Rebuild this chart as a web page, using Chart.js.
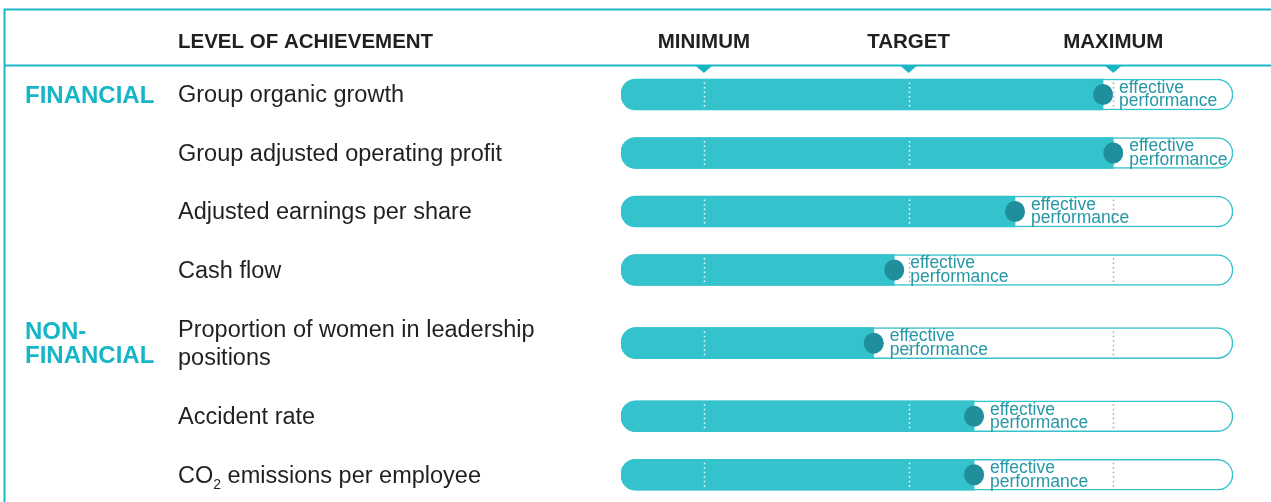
<!DOCTYPE html>
<html><head><meta charset="utf-8">
<script src="https://cdn.jsdelivr.net/npm/chart.js@4.4.1/dist/chart.umd.min.js"></script>
<style>html,body{margin:0;padding:0;background:#fff;overflow:hidden}canvas{display:block}</style>
</head><body>
<canvas id="c" width="1271" height="502"></canvas>
<script>
// ---- data ----
const categories = [
  'Group organic growth',
  'Group adjusted operating profit',
  'Adjusted earnings per share',
  'Cash flow',
  ['Proportion of women in leadership', 'positions'],
  'Accident rate',
  'CO\u2082 emissions per employee'
];
const effective = [195, 200, 152, 93, 83, 132, 132];
const levelValues = [0, 100, 200];
const levelLabels = ['MINIMUM', 'TARGET', 'MAXIMUM'];
const scaleRange = [-40.5, 258.5];
const groupLabels = [['FINANCIAL'], ['NON-', 'FINANCIAL']];
const groupStartRow = [0, 4];
const headerTitle = 'LEVEL OF ACHIEVEMENT';
const markerText = ['effective', 'performance'];

// ---- style ----
const TEAL = '#34c2cd';
const LINE = '#1db8c8';
const DOT = '#1f8f9c';
const MARK_TEXT = '#2697a5';
const INK = '#231f20';
const FONT = '"Liberation Sans", Arial, Helvetica, sans-serif';

// row index positions (extra room around multi-line rows)
const rowPos = [];
categories.forEach((c, i) => {
  if (i === 0) { rowPos.push(0); return; }
  const extra = (Array.isArray(c) || Array.isArray(categories[i - 1])) ? 0.25 : 0;
  rowPos.push(rowPos[i - 1] + 1 + extra);
});

const decor = {
  id: 'decor',
  beforeDatasetsDraw(chart) {
    const ctx = chart.ctx, xs = chart.scales.x, ys = chart.scales.y;
    const W = chart.width, H = chart.height;
    ctx.save();
    // frame
    ctx.strokeStyle = LINE; ctx.lineWidth = 2;
    ctx.beginPath();
    ctx.moveTo(4.5, H); ctx.lineTo(4.5, 9.5); ctx.lineTo(W, 9.5);
    ctx.moveTo(4.5, 65.5); ctx.lineTo(W, 65.5);
    ctx.stroke();
    // triangles
    ctx.fillStyle = '#19b5c5';
    levelValues.forEach(v => {
      const x = xs.getPixelForValue(v);
      ctx.beginPath();
      ctx.moveTo(x - 8, 66); ctx.lineTo(x + 8, 66); ctx.lineTo(x, 73); ctx.closePath();
      ctx.fill();
    });
    // header
    ctx.fillStyle = INK;
    ctx.font = 'bold 20.5px ' + FONT;
    ctx.textBaseline = 'middle';
    ctx.textAlign = 'left';
    ctx.fillText(headerTitle, 178, 42);
    ctx.textAlign = 'center';
    levelLabels.forEach((t, i) => ctx.fillText(t, xs.getPixelForValue(levelValues[i]), 42));
    // group labels
    ctx.textAlign = 'left';
    ctx.fillStyle = '#17b6c6';
    ctx.font = 'bold 24px ' + FONT;
    groupLabels.forEach((lines, g) => {
      const cy = ys.getPixelForValue(rowPos[groupStartRow[g]]);
      lines.forEach((t, k) => ctx.fillText(t, 25, cy + 1.5 + (k - (lines.length - 1) / 2) * 24));
    });
    // row labels
    ctx.fillStyle = INK;
    categories.forEach((c, i) => {
      const cy = ys.getPixelForValue(rowPos[i]);
      const lines = Array.isArray(c) ? c : [c];
      lines.forEach((t, k) => {
        const y = cy + 1.5 + (k - (lines.length - 1) / 2) * 28;
        const parts = t.split('\u2082');
        let x = 178;
        parts.forEach((p, j) => {
          ctx.font = '23.5px ' + FONT;
          ctx.fillText(p, x, y);
          x += ctx.measureText(p).width;
          if (j < parts.length - 1) {
            ctx.font = '14px ' + FONT;
            ctx.fillText('2', x, y + 9);
            x += ctx.measureText('2').width;
          }
        });
      });
    });
    ctx.restore();
  },
  afterDatasetsDraw(chart) {
    const ctx = chart.ctx, xs = chart.scales.x, ys = chart.scales.y;
    ctx.save();
    effective.forEach((v, i) => {
      const cy = ys.getPixelForValue(rowPos[i]);
      // dotted level lines
      ctx.lineWidth = 1.5;
      ctx.setLineDash([1.5, 3]);
      levelValues.forEach(lv => {
        const x = Math.round(xs.getPixelForValue(lv)) + 0.5;
        ctx.strokeStyle = lv < v ? 'rgba(255,255,255,0.95)' : '#a9a9a9';
        ctx.beginPath(); ctx.moveTo(x, cy - 12); ctx.lineTo(x, cy + 13); ctx.stroke();
      });
      ctx.setLineDash([]);
      // marker dot
      const px = xs.getPixelForValue(v);
      ctx.fillStyle = DOT;
      ctx.beginPath(); ctx.ellipse(px, cy, 10, 10.5, 0, 0, Math.PI * 2); ctx.fill();
      // marker text
      ctx.fillStyle = MARK_TEXT;
      ctx.font = '17.5px ' + FONT;
      ctx.textAlign = 'left';
      ctx.textBaseline = 'middle';
      ctx.fillText(markerText[0], px + 16, cy - 6.5);
      ctx.fillText(markerText[1], px + 16, cy + 7);
    });
    ctx.restore();
  }
};

new Chart(document.getElementById('c'), {
  type: 'bar',
  data: {
    datasets: [
      {
        label: 'achievement',
        data: effective.map((v, i) => ({ x: [scaleRange[0], v], y: rowPos[i] })),
        backgroundColor: TEAL,
        borderWidth: 0,
        borderRadius: { topLeft: 15, bottomLeft: 15, topRight: 0, bottomRight: 0 },
        borderSkipped: false,
        barThickness: 31,
        grouped: false,
        order: 1
      },
      {
        label: 'range',
        data: categories.map((c, i) => ({ x: scaleRange, y: rowPos[i] })),
        backgroundColor: '#ffffff',
        borderColor: TEAL,
        borderWidth: 1.5,
        borderRadius: 15.5,
        borderSkipped: false,
        barThickness: 31,
        grouped: false,
        order: 2
      }
    ]
  },
  options: {
    indexAxis: 'y',
    responsive: false,
    devicePixelRatio: 1,
    animation: false,
    events: [],
    layout: { padding: { left: 621, right: 38, top: 24.3, bottom: 3.85 } },
    scales: {
      x: { type: 'linear', min: scaleRange[0], max: scaleRange[1], display: false, offset: false },
      y: { type: 'linear', min: -1.2, max: 6.9, reverse: true, display: false, offset: false }
    },
    plugins: { legend: { display: false }, tooltip: { enabled: false } }
  },
  plugins: [decor]
});
</script>
</body></html>
